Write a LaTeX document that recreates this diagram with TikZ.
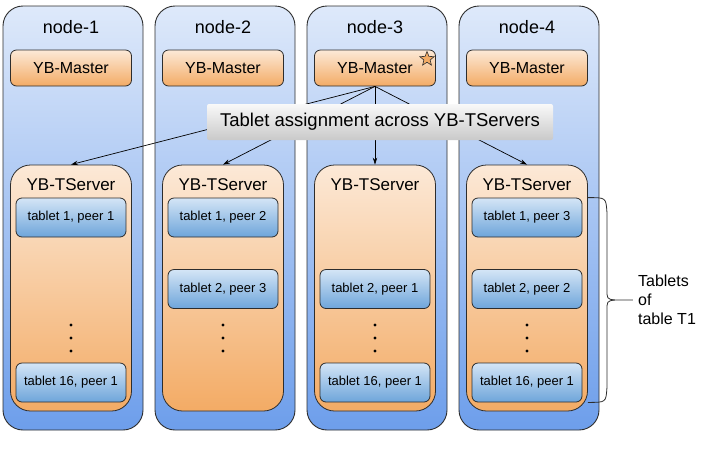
\documentclass[tikz,border=0pt]{standalone}
\usepackage{fontspec}
\setmainfont{Liberation Sans}
\usepackage{tikz}
\usetikzlibrary{arrows.meta}
\usetikzlibrary{calc}
\usetikzlibrary{shapes.geometric}
\definecolor{hostTop}{RGB}{222,233,250}
\definecolor{hostBot}{RGB}{109,158,235}
\definecolor{peachTop}{RGB}{252,233,215}
\definecolor{peachBot}{RGB}{243,171,101}
\definecolor{tabTop}{RGB}{212,229,246}
\definecolor{tabBot}{RGB}{110,165,218}
\definecolor{lineGray}{RGB}{45,45,45}

\begin{document}
\begin{tikzpicture}[x=1pt, y=-1pt,
	hostbox/.style={draw=lineGray, line width=0.9pt, rounded corners=20pt, top color=hostTop, bottom color=hostBot, minimum width=140pt, minimum height=424pt, inner sep=0pt},
	hosttitle/.style={font=\fontsize{18}{21}\selectfont, inner sep=0pt},
	masterbox/.style={draw=lineGray, line width=0.8pt, rounded corners=6pt, top color=peachTop, bottom color=peachBot, minimum width=121pt, minimum height=36pt, inner sep=0pt, font=\fontsize{16}{19}\selectfont},
	tserverbox/.style={draw=lineGray, line width=0.8pt, rounded corners=20pt, top color=peachTop, bottom color=peachBot, minimum width=121pt, minimum height=246pt, inner sep=0pt},
	tserverlabel/.style={font=\fontsize{17}{20}\selectfont, inner sep=0pt},
	tabletbox/.style={draw=lineGray, line width=0.8pt, rounded corners=6pt, top color=tabTop, bottom color=tabBot, minimum width=110pt, minimum height=39pt, inner sep=0pt, font=\fontsize{13}{15}\selectfont},
	assignbox/.style={rounded corners=2pt, top color=gray!5, bottom color=gray!42, minimum width=346pt, minimum height=36pt, inner sep=0pt, font=\fontsize{18.5}{22}\selectfont},
	assign/.style={-{Stealth[length=7pt, width=4.5pt]}, line width=0.7pt},
	bracepen/.style={line width=0.8pt, lineGray},
	bracetext/.style={font=\fontsize{16}{19}\selectfont, align=left, inner sep=0pt}
	]
	\useasboundingbox (0,0) rectangle (704,448);

	% cluster nodes
	\node[hostbox] (n1) at (73,218) {};
	\node[hostbox] (n2) at (225,218) {};
	\node[hostbox] (n3) at (377,218) {};
	\node[hostbox] (n4) at (529,218) {};
	\node[hosttitle] (h1) at (71,27) {node-1};
	\node[hosttitle] (h2) at (223,27) {node-2};
	\node[hosttitle] (h3) at (375,27) {node-3};
	\node[hosttitle] (h4) at (527,27) {node-4};

	% masters
	\node[masterbox] (m1) at (71,68) {YB-Master};
	\node[masterbox] (m2) at (223,68) {YB-Master};
	\node[masterbox] (m3) at (375,68) {YB-Master};
	\node[masterbox] (m4) at (527,68) {YB-Master};

	% tablet servers
	\node[tserverbox] (ts1) at (71,288) {};
	\node[tserverbox] (ts2) at (223,288) {};
	\node[tserverbox] (ts3) at (375,288) {};
	\node[tserverbox] (ts4) at (527,288) {};
	\node[tserverlabel] (l1) at (71,185) {YB-TServer};
	\node[tserverlabel] (l2) at (223,185) {YB-TServer};
	\node[tserverlabel] (l3) at (375,185) {YB-TServer};
	\node[tserverlabel] (l4) at (527,185) {YB-TServer};

	% tablet peers
	\node[tabletbox] (t11) at (71,217.5) {tablet 1, peer 1};
	\node[tabletbox] (t13) at (71,382.5) {tablet 16, peer 1};
	\node[tabletbox] (t21) at (223,217.5) {tablet 1, peer 2};
	\node[tabletbox] (t22) at (223,289) {tablet 2, peer 3};
	\node[tabletbox] (t32) at (375,289) {tablet 2, peer 1};
	\node[tabletbox] (t33) at (375,382.5) {tablet 16, peer 1};
	\node[tabletbox] (t41) at (527,217.5) {tablet 1, peer 3};
	\node[tabletbox] (t42) at (527,289) {tablet 2, peer 2};
	\node[tabletbox] (t43) at (527,382.5) {tablet 16, peer 1};

	% vertical dots
	\fill (71,325) circle (1.6) (71,338) circle (1.6) (71,351) circle (1.6);
	\fill (223,325) circle (1.6) (223,338) circle (1.6) (223,351) circle (1.6);
	\fill (375,325) circle (1.6) (375,338) circle (1.6) (375,351) circle (1.6);
	\fill (527,325) circle (1.6) (527,338) circle (1.6) (527,351) circle (1.6);

	% assignment from the leader master
	\draw[assign] (m3.south) -- (ts1.north);
	\draw[assign] (m3.south) -- (ts2.north);
	\draw[assign] (m3.south) -- (ts3.north);
	\draw[assign] (m3.south) -- (ts4.north);
	\node[assignbox] (asg) at (380,122) {Tablet assignment across YB-TServers};

	% leader mark
	\node[star, star points=5, star point ratio=2.3, minimum size=15pt, inner sep=0pt, draw=lineGray, fill=peachBot, line width=0.6pt] (st) at (427,59) {};

	% brace over the tablets of node-4
	\coordinate (bt) at (ts4.east |- t41.north);
	\coordinate (bb) at (ts4.east |- t43.south);
	\coordinate (bm) at ($(bt)!0.5!(bb)$);
	\draw[bracepen] (bt) .. controls ($(bt)+(18,0)$) .. ($(bt)+(19,14)$) -- ($(bm)+(19,-12)$) .. controls ($(bm)+(19,-1)$) .. ($(bm)+(27,0)$) -- ($(bm)+(45,0)$);
	\draw[bracepen] (bb) .. controls ($(bb)+(18,0)$) .. ($(bb)+(19,-14)$) -- ($(bm)+(19,12)$) .. controls ($(bm)+(19,1)$) .. ($(bm)+(27,0)$);
	\node[bracetext, anchor=west] (tt) at ($(bm)+(50,0)$) {Tablets\\of\\table T1};
\end{tikzpicture}
\end{document}
